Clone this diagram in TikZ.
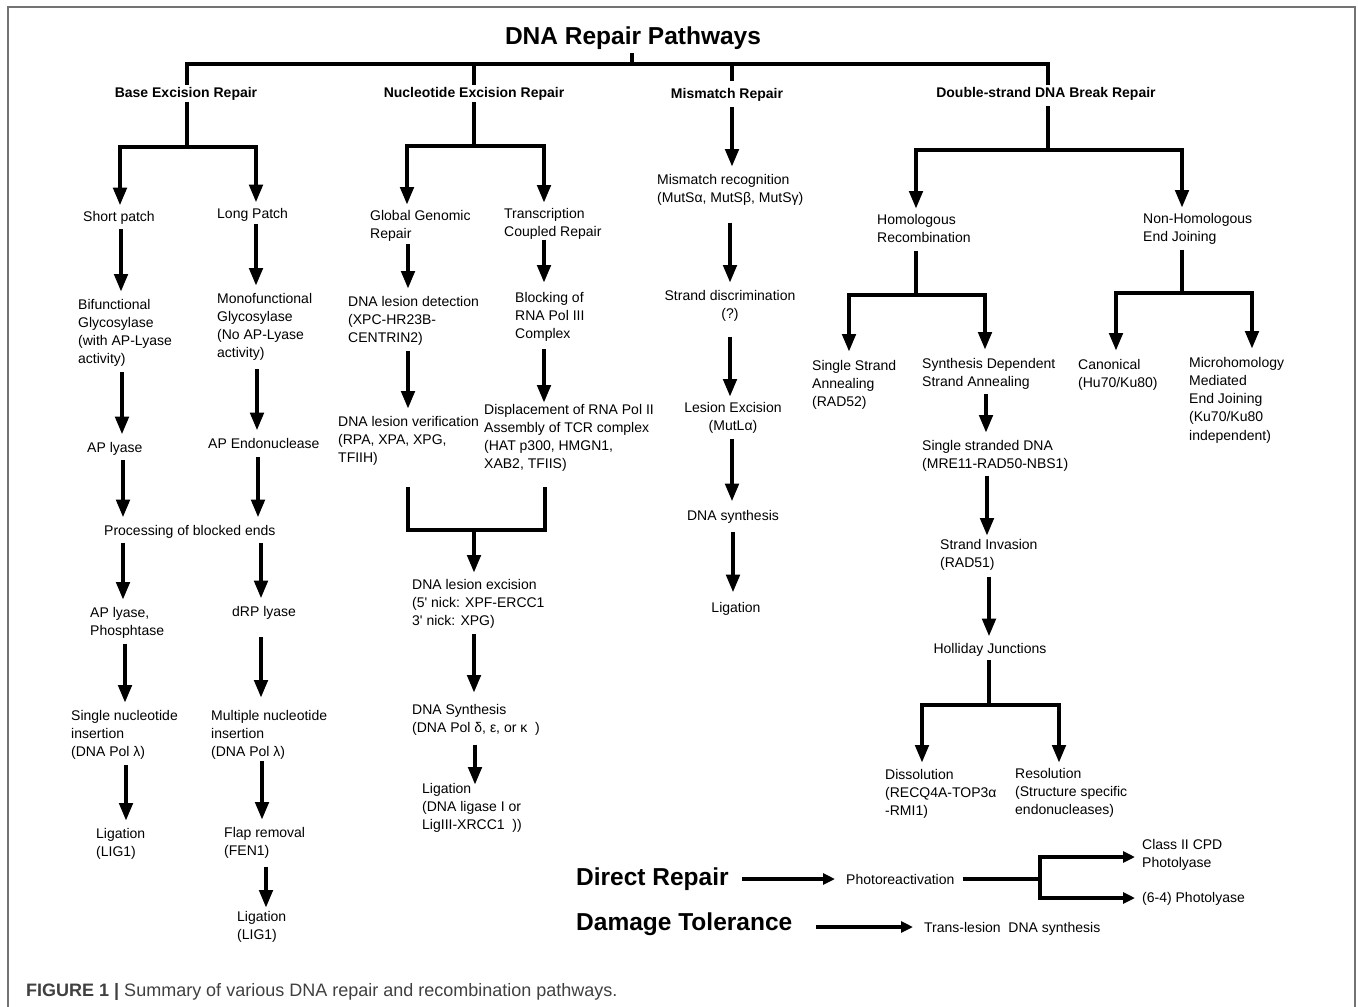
\documentclass[tikz,border=0pt]{standalone}
\usepackage{fontspec}
\setmainfont{Liberation Sans}
\usetikzlibrary{arrows.meta,positioning,calc}
\tikzset{
    frame color/.style={black!55},
    lbl/.style={font=\fontsize{14}{18.2}\selectfont, inner sep=0pt, align=left},
    clbl/.style={lbl, align=center},
    head/.style={font=\fontsize{14}{17}\selectfont\bfseries, inner sep=0pt},
    big head/.style={font=\fontsize{24.5}{28}\selectfont\bfseries, inner sep=0pt},
    bar/.style={line width=4.5pt},
    arr/.style={bar, -{Triangle[length=18pt,width=13pt]}, shorten <=5pt, shorten >=7pt},
    fork/.style={bar, {Triangle[length=18pt,width=13pt]}-{Triangle[length=18pt,width=13pt]}, shorten <=5pt, shorten >=5pt},
    thin bar/.style={line width=4pt},
    small arr/.style={thin bar, -{Triangle[length=12pt,width=11pt]}},
    small fork/.style={thin bar, {Triangle[length=12pt,width=11pt]}-{Triangle[length=12pt,width=11pt]}},
}

\begin{document}
\begin{tikzpicture}[x=1pt, y=-1pt]
    \useasboundingbox (0,0) rectangle (1358,1007);
    \draw[frame color, line width=2pt] (8,1007) -- (8,7) -- (1355,7) -- (1355,1007);

    \node[big head, anchor=base] (title) at (633,44) {DNA Repair Pathways};
    \node[head, anchor=base] (ber) at (186,97) {Base Excision Repair};
    \node[head, anchor=base] (ner) at (474,97) {Nucleotide Excision Repair};
    \node[head, anchor=base] (mmr) at (727,98) {Mismatch Repair};
    \node[head, anchor=base] (dsb) at (1046,97) {Double-strand DNA Break Repair};

    \coordinate (topfork) at (632,64);
    \draw[bar, shorten <=4pt] (title.south -| topfork) -- (topfork);
    \draw[bar, shorten <=2pt, shorten >=2pt] (ber.north -| 187,0) |- (topfork) -| (dsb.north -| 1048,0);
    \draw[bar, shorten <=2pt] (ner.north) -- (ner.north |- topfork);
    \draw[bar, shorten <=7pt] (mmr.north -| 732,0) -- (topfork -| 732,0);

    % base excision repair
    \node[lbl, anchor=base west] (shortp) at (83,221) {Short patch};
    \node[lbl, anchor=base west] (longp) at (217,218) {Long Patch};
    \node[lbl, anchor=north west] (bifunc) at (78,299) {Bifunctional\\Glycosylase\\(with AP-Lyase\\activity)};
    \node[lbl, anchor=north west] (monofunc) at (217,293) {Monofunctional\\Glycosylase\\(No AP-Lyase\\activity)};
    \node[lbl, anchor=base west] (aplyase) at (87,452) {AP lyase};
    \node[lbl, anchor=base west] (apendo) at (208,448) {AP Endonuclease};
    \node[lbl, anchor=base west] (procends) at (104,535) {Processing of blocked ends};
    \node[lbl, anchor=north west] (apphos) at (90,607) {AP lyase,\\Phosphtase};
    \node[lbl, anchor=base west] (drp) at (232,616) {dRP lyase};
    \node[lbl, anchor=north west] (singlenuc) at (71,710) {Single nucleotide\\insertion\\(DNA Pol λ)};
    \node[lbl, anchor=north west] (multinuc) at (211,710) {Multiple nucleotide\\insertion\\(DNA Pol λ)};
    \node[lbl, anchor=north west] (ligs) at (96,828) {Ligation\\(LIG1)};
    \node[lbl, anchor=north west] (flap) at (224,827) {Flap removal\\(FEN1)};
    \node[lbl, anchor=north west] (ligl) at (237,911) {Ligation\\(LIG1)};

    \coordinate (berfork) at (187,147);
    \draw[bar, shorten <=2pt] (berfork |- ber.south) -- (berfork);
    \draw[fork] (shortp.north -| 120,0) |- (berfork) -| (longp.north -| 256,0);
    \draw[arr] (shortp.south -| 121,0) -- (bifunc.north -| 121,0);
    \draw[arr] (bifunc.south -| 122,0) -- (aplyase.north -| 122,0);
    \draw[arr] (aplyase.south -| 123,0) -- (procends.north -| 123,0);
    \draw[arr] (procends.south -| 123,0) -- (apphos.north -| 123,0);
    \draw[arr] (apphos.south -| 125,0) -- (singlenuc.north -| 125,0);
    \draw[arr] (singlenuc.south -| 126,0) -- (ligs.north -| 126,0);
    \draw[arr, shorten <=3pt] (longp.south -| 256,0) -- (monofunc.north -| 256,0);
    \draw[arr, shorten <=8pt] (monofunc.south -| 257,0) -- (apendo.north -| 257,0);
    \draw[arr, shorten <=9pt] (apendo.south -| 258,0) -- (procends.north -| 258,0);
    \draw[arr] (procends.south -| 261,0) -- (drp.north -| 261,0);
    \draw[arr, shorten <=18pt, shorten >=12pt] (drp.south -| 261,0) -- (multinuc.north -| 261,0);
    \draw[arr, shorten <=1pt] (multinuc.south -| 262,0) -- (flap.north -| 262,0);
    \draw[arr, shorten <=8pt, shorten >=3pt] (flap.south -| 266,0) -- (ligl.north -| 266,0);

    % nucleotide excision repair
    \node[lbl, anchor=north west] (gg) at (370,210) {Global Genomic\\Repair};
    \node[lbl, anchor=north west] (tc) at (504,208) {Transcription\\Coupled Repair};
    \node[lbl, anchor=north west] (detect) at (348,296) {DNA lesion detection\\(XPC-HR23B-\\CENTRIN2)};
    \node[lbl, anchor=north west] (verif) at (338,416) {DNA lesion verification\\(RPA, XPA, XPG,\\TFIIH)};
    \node[lbl, anchor=north west] (block) at (515,292) {Blocking of\\RNA Pol III\\Complex};
    \node[lbl, anchor=north west] (displ) at (484,404) {Displacement of RNA Pol II\\Assembly of TCR complex\\(HAT p300, HMGN1,\\XAB2, TFIIS)};
    \node[lbl, anchor=north west] (excis) at (412,579) {DNA lesion excision\\(5\textquotesingle{} nick: XPF-ERCC1\\3\textquotesingle{} nick: XPG)};
    \node[lbl, anchor=north west] (nsynth) at (412,704) {DNA Synthesis\\(DNA Pol δ, ε, or κ\ \ )};
    \node[lbl, anchor=north west] (nlig) at (422,783) {Ligation\\(DNA ligase I or\\LigIII-XRCC1\ \ ))};

    \coordinate (nerfork) at (474,146);
    \draw[bar, shorten <=2pt] (ner.south) -- (nerfork);
    \draw[fork] (gg.north -| 407,0) |- (nerfork) -| (tc.north -| 544,0);
    \draw[arr, shorten <=2pt] (gg.south -| 408,0) -- (detect.north -| 408,0);
    \draw[arr] (detect.south -| 408,0) -- (verif.north -| 408,0);
    \draw[arr, shorten <=0pt, shorten >=9pt] (tc.south -| 544,0) -- (block.north -| 544,0);
    \draw[arr, shorten <=7pt, shorten >=1pt] (block.south -| 544,0) -- (displ.north -| 544,0);
    \coordinate (nermerge) at (474,530);
    \draw[bar] ([yshift=-21pt]verif.south -| 408,0) |- (nermerge) -| ([yshift=-15pt]displ.south -| 545,0);
    \draw[arr, shorten <=0pt, shorten >=6pt] (nermerge) -- (excis.north -| nermerge);
    \draw[arr, shorten >=11pt] (excis.south -| 474,0) -- (nsynth.north -| 474,0);
    \draw[arr, shorten <=9pt, shorten >=-2pt] (nsynth.south -| 475,0) -- (nlig.north -| 475,0);

    % mismatch repair
    \node[lbl, anchor=north west] (mrec) at (657,174) {Mismatch recognition\\(MutSα, MutSβ, MutSγ)};
    \node[clbl, anchor=north] (sdisc) at (730,290) {Strand discrimination\\(?)};
    \node[clbl, anchor=north] (lexc) at (733,402) {Lesion Excision\\(MutLα)};
    \node[lbl, anchor=base] (msynth) at (733,520) {DNA synthesis};
    \node[lbl, anchor=base] (mlig) at (736,612) {Ligation};

    \draw[arr, shorten <=6pt] (mmr.south -| 732,0) -- (mrec.north -| 732,0);
    \draw[arr, shorten <=17pt] (mrec.south -| 730,0) -- (sdisc.north -| 730,0);
    \draw[arr, shorten <=15pt, shorten >=5pt] (sdisc.south -| 730,0) -- (lexc.north -| 730,0);
    \draw[arr, shorten >=8pt] (lexc.south -| 732,0) -- (msynth.north -| 732,0);
    \draw[arr, shorten <=9pt, shorten >=9pt] (msynth.south -| 733,0) -- (mlig.north -| 733,0);

    % double-strand break repair
    \node[lbl, anchor=north west] (hr) at (877,214) {Homologous\\Recombination};
    \node[lbl, anchor=north west] (nhej) at (1143,213) {Non-Homologous\\End Joining};
    \node[lbl, anchor=north west] (ssa) at (812,360) {Single Strand\\Annealing\\(RAD52)};
    \node[lbl, anchor=north west] (sdsa) at (922,358) {Synthesis Dependent\\Strand Annealing};
    \node[lbl, anchor=north west] (ssdna) at (922,440) {Single stranded DNA\\(MRE11-RAD50-NBS1)};
    \node[lbl, anchor=north west] (sinv) at (940,539) {Strand Invasion\\(RAD51)};
    \node[lbl, anchor=base] (hj) at (990,653) {Holliday Junctions};
    \node[lbl, anchor=north west] (diss) at (885,769) {Dissolution\\(RECQ4A-TOP3α\\-RMI1)};
    \node[lbl, anchor=north west] (resol) at (1015,768) {Resolution\\(Structure specific\\endonucleases)};
    \node[lbl, anchor=north west] (canon) at (1078,359) {Canonical\\(Hu70/Ku80)};
    \node[lbl, anchor=north west] (mmej) at (1189,357) {Microhomology\\Mediated\\End Joining\\(Ku70/Ku80\\independent)};

    \coordinate (dsbfork) at (1048,150);
    \draw[bar, shorten <=6pt] (dsbfork |- dsb.south) -- (dsbfork);
    \draw[fork] (hr.north -| 916,0) |- (dsbfork) -| (nhej.north -| 1182,0);
    \coordinate (hrfork) at (916,295);
    \draw[bar, shorten <=8pt] (hrfork |- hr.south) -- (hrfork);
    \draw[fork, shorten <=8pt, shorten >=8pt] (ssa.north -| 849,0) |- (hrfork) -| (sdsa.north -| 985,0);
    \coordinate (nhejfork) at (1182,293);
    \draw[bar, shorten <=5pt] (nhejfork |- nhej.south) -- (nhejfork);
    \draw[fork, shorten <=8pt, shorten >=8pt] (canon.north -| 1116,0) |- (nhejfork) -| (mmej.north -| 1252,0);
    \draw[arr, shorten <=4pt] (sdsa.south -| 986,0) -- (ssdna.north -| 986,0);
    \draw[arr, shorten <=4pt, shorten >=3pt] (ssdna.south -| 987,0) -- (sinv.north -| 987,0);
    \draw[arr, shorten <=6pt, shorten >=6pt] (sinv.south -| 989,0) -- (hj.north -| 989,0);
    \coordinate (hjfork) at (989,705);
    \draw[bar, shorten <=4pt] (hjfork |- hj.south) -- (hjfork);
    \draw[fork, shorten <=6pt, shorten >=5pt] (diss.north -| 922,0) |- (hjfork) -| (resol.north -| 1059,0);

    % direct repair and damage tolerance
    \node[big head, anchor=base west] (drep) at (576,885) {Direct Repair};
    \node[lbl, anchor=base west] (photo) at (846,884) {Photoreactivation};
    \node[lbl, anchor=north west] (cpd) at (1142,839) {Class II CPD\\Photolyase};
    \node[lbl, anchor=base west] (six4) at (1142,902) {(6-4) Photolyase};
    \node[big head, anchor=base west] (dtol) at (576,930) {Damage Tolerance};
    \node[lbl, anchor=base west] (tls) at (924,932) {Trans-lesion\ \ DNA synthesis};

    \coordinate (drfork) at (1040,879);
    \draw[small arr, shorten <=13pt, shorten >=11pt] (drep.east |- drfork) -- (photo.west |- drfork);
    \draw[thin bar, shorten <=8pt] (photo.east |- drfork) -- (drfork);
    \draw[small fork, shorten <=7pt, shorten >=7pt] (cpd.west |- 0,857) -| (drfork) |- (six4.west |- 0,898);
    \draw[small arr, shorten <=24pt, shorten >=11pt] (dtol.east |- 0,927) -- (tls.west |- 0,927);

    \node[anchor=base west, inner sep=0pt, font=\fontsize{18}{20}\selectfont, text=black!75] (caption) at (26,996) {\textbf{FIGURE 1 |} Summary of various DNA repair and recombination pathways.};
\end{tikzpicture}
\end{document}
